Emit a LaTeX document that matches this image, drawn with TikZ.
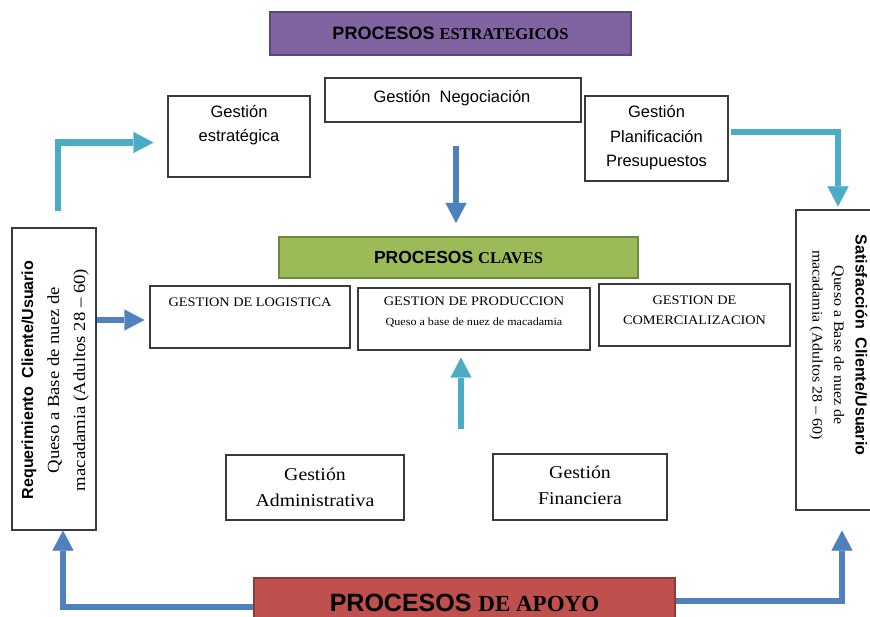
\documentclass[tikz,border=0pt]{standalone}
\usepackage{fontspec}
\setmainfont{Liberation Serif}[FakeStretch=1.1]
\setsansfont{Liberation Sans}
\newfontfamily\headserif{Liberation Serif}
\usetikzlibrary{arrows.meta}

\definecolor{purplefill}{HTML}{8064A2}
\definecolor{purpleedge}{HTML}{5C4776}
\definecolor{greenfill}{HTML}{9BBB59}
\definecolor{greenedge}{HTML}{71893F}
\definecolor{redfill}{HTML}{C0504D}
\definecolor{rededge}{HTML}{8E3A38}
\definecolor{arrowblue}{HTML}{4F81BD}
\definecolor{arrowteal}{HTML}{4BACC6}
\definecolor{boxedge}{HTML}{3A3A3A}

\newcommand\fsz[2]{\fontsize{#1}{#2}\selectfont}

\begin{document}
\begin{tikzpicture}[x=1pt,y=-1pt,
  box/.style={draw=boxedge, line width=1.1pt, fill=white, inner sep=0pt},
  band/.style={line width=2pt, inner sep=0pt},
  lbl/.style={inner sep=0pt, align=center},
  flow/.style={line width=6.5pt, line join=miter,
    -{Triangle[length=20pt,width=21pt,line width=0.1pt]}},
  blueflow/.style={flow, draw=arrowblue},
  tealflow/.style={flow, draw=arrowteal},
  sanstext/.style={lbl, font=\fsz{16.5}{24.5}\sffamily},
  seriftext/.style={lbl, font=\fsz{18}{26}\rmfamily},
  capstext/.style={lbl, font=\fsz{13}{20}\rmfamily}
]
\useasboundingbox (0,0) rectangle (870,617);
\clip (0,0) rectangle (870,617);

% process bands
\node[band, draw=purpleedge, fill=purplefill, minimum width=361pt, minimum height=43pt]
  (estr) at (450.5,33.5)
  {\fsz{18}{20}\sffamily\bfseries PROCESOS \headserif\fsz{16.5}{20}\bfseries ESTRATEGICOS};
\node[band, draw=greenedge, fill=greenfill, minimum width=359pt, minimum height=41pt]
  (claves) at (458.5,257.5)
  {\fsz{17.5}{20}\sffamily\bfseries PROCESOS \headserif\fsz{16.5}{20}\bfseries CLAVES};

% strategic boxes
\node[box, minimum width=142pt, minimum height=81pt] (gestr) at (239,136.5) {};
\node[sanstext] (gestr-t) at (239,125) {Gestión\\estratégica};
\node[box, minimum width=256pt, minimum height=44pt] (neg) at (453,100) {};
\node[sanstext] (neg-t) at (452,98) {Gestión\ \ Negociación};
\node[box, minimum width=143pt, minimum height=85pt] (plan) at (656.5,138.5) {};
\node[sanstext] (plan-t) at (656.5,138) {Gestión\\Planificación\\Presupuestos};

% key process boxes
\node[box, minimum width=200pt, minimum height=62pt] (log) at (250,317) {};
\node[capstext] (log-t) at (250,302) {GESTION DE LOGISTICA};
\node[box, minimum width=232pt, minimum height=62pt] (prod) at (474,319) {};
\node[lbl, font=\fsz{13}{20}] (prod-t) at (474,312)
  {\begin{tabular}{@{}c@{}}GESTION DE PRODUCCION\\
   \fsz{11}{20}Queso a base de nuez de macadamia\end{tabular}};
\node[box, minimum width=191pt, minimum height=62pt] (com) at (694.5,315) {};
\node[capstext] (com-t) at (694.5,310) {GESTION DE\\COMERCIALIZACION};

% support boxes
\node[box, minimum width=178pt, minimum height=65pt] (adm) at (315,487.5) {};
\node[seriftext] (adm-t) at (315,487) {Gestión\\Administrativa};
\node[box, minimum width=174pt, minimum height=66pt] (fin) at (580,487) {};
\node[seriftext] (fin-t) at (580,485) {Gestión\\Financiera};

% customer boxes
\node[box, minimum width=84pt, minimum height=302pt] (lbox) at (54,379) {};
\node[lbl, rotate=90, font=\fsz{17}{26}] (lbox-t) at (54,380)
  {\begin{tabular}{@{}c@{}}{\fsz{16}{26}\sffamily\bfseries Requerimiento\ \ Cliente/Usuario}\\
   Queso a Base de nuez de\\
   macadamia (Adultos 28 – 60)\end{tabular}};
\node[box, minimum width=84pt, minimum height=300pt] (rbox) at (838,360) {};
\node[lbl, rotate=-90, font=\fsz{14.5}{21.5}] (rbox-t) at (838.5,345)
  {\begin{tabular}{@{}c@{}}{\fsz{16}{21.5}\sffamily\bfseries Satisfacción\ \ Cliente/Usuario}\\
   Queso a Base de nuez de\\
   macadamia (Adultos 28 – 60)\end{tabular}};

% support band
\node[band, draw=rededge, fill=redfill, minimum width=421pt, minimum height=50pt]
  (apoyo) at (464.5,603)
  {\fsz{25}{28}\sffamily\bfseries PROCESOS \headserif\fsz{23}{28}\bfseries DE APOYO};

% flows
\coordinate (supp) at (461,429);
\draw[blueflow] ([xshift=3pt,yshift=-23pt]neg.south) -- ([xshift=3pt,yshift=13pt]neg.south |- claves.north);
\draw[tealflow] ([xshift=4pt,yshift=16pt]lbox.north) |- ([xshift=-14pt,yshift=-6pt]gestr.west);
\draw[tealflow] ([xshift=2pt,yshift=6.5pt]plan.east) -| ([yshift=3pt]rbox.north);
\draw[blueflow] ([yshift=-3pt]lbox.east |- log.west) -- ([xshift=-5pt,yshift=-3pt]log.west);
\draw[tealflow] (supp) -- ([yshift=-7pt]supp |- prod.south);
\draw[blueflow] ([yshift=-4pt]apoyo.west) -| ([xshift=9pt]lbox.south);
\draw[blueflow] ([yshift=2pt]apoyo.east) -| ([xshift=4pt,yshift=-20pt]rbox.south);
\end{tikzpicture}
\end{document}
